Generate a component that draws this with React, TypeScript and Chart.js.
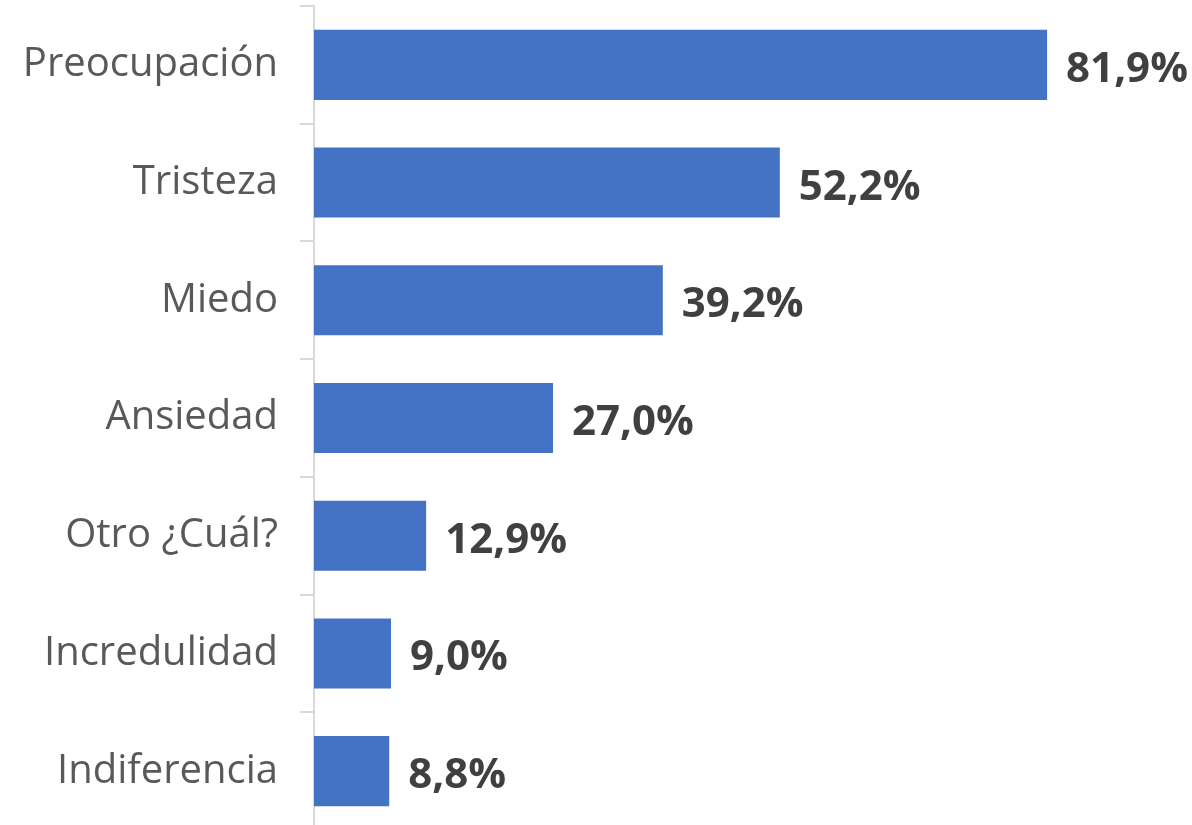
import React, { useEffect, useRef } from "react";
import { Chart, registerables } from "chart.js";

Chart.register(...registerables);

const categories = [
  "Preocupación",
  "Tristeza",
  "Miedo",
  "Ansiedad",
  "Otro ¿Cuál?",
  "Incredulidad",
  "Indiferencia",
];
const values = [81.9, 52.2, 39.2, 27.0, 12.9, 9.0, 8.8];

const BAR_COLOR = "#4472C4";
const FONT = "'Open Sans', 'Noto Sans', sans-serif";

const valueLabels = {
  id: "valueLabels",
  afterDatasetsDraw(chart: any) {
    const ctx = chart.ctx;
    const meta = chart.getDatasetMeta(0);
    ctx.save();
    ctx.font = `bold 42px ${FONT}`;
    ctx.fillStyle = "#404040";
    ctx.textAlign = "left";
    ctx.textBaseline = "alphabetic";
    meta.data.forEach((bar: any, i: number) => {
      const v = chart.data.datasets[0].data[i] as number;
      const txt = v.toFixed(1).replace(".", ",") + "%";
      ctx.fillText(txt, bar.x + 19, bar.y + 17);
    });
    ctx.restore();
  },
};

export default function App() {
  const ref = useRef<HTMLCanvasElement | null>(null);

  useEffect(() => {
    document.body.style.margin = "0";
    document.body.style.overflow = "hidden";
    if (!ref.current) return;
    const chart = new Chart(ref.current, {
      type: "bar",
      data: {
        labels: categories,
        datasets: [
          {
            data: values,
            backgroundColor: BAR_COLOR,
            borderWidth: 0,
            barPercentage: 0.595,
            categoryPercentage: 1,
          },
        ],
      },
      plugins: [valueLabels],
      options: {
        indexAxis: "y",
        animation: false,
        responsive: false,
        devicePixelRatio: 1,
        layout: { padding: { top: 6, bottom: 2, left: 0, right: 0 } },
        plugins: {
          legend: { display: false },
          tooltip: { enabled: false },
        },
        scales: {
          x: {
            display: false,
            min: 0.44,
            max: 98,
          },
          y: {
            type: "category",
            afterFit: (s: any) => {
              s.width = 314;
              s.paddingTop = 0;
              s.paddingBottom = 0;
            },
            grid: {
              display: true,
              drawOnChartArea: false,
              drawTicks: true,
              tickLength: 14,
              color: "#d9d9d9",
              lineWidth: 2,
              offset: true,
            },
            border: { display: true, color: "#d9d9d9", width: 2 },
            ticks: {
              padding: 22,
              color: "#595959",
              font: { family: FONT, size: 40 },
            },
          },
        },
      },
    });
    return () => chart.destroy();
  }, []);

  return (
    <div style={{ width: 1192, height: 825, overflow: "hidden" }}>
      <canvas ref={ref} width={1192} height={832} style={{ display: "block" }} />
    </div>
  );
}
